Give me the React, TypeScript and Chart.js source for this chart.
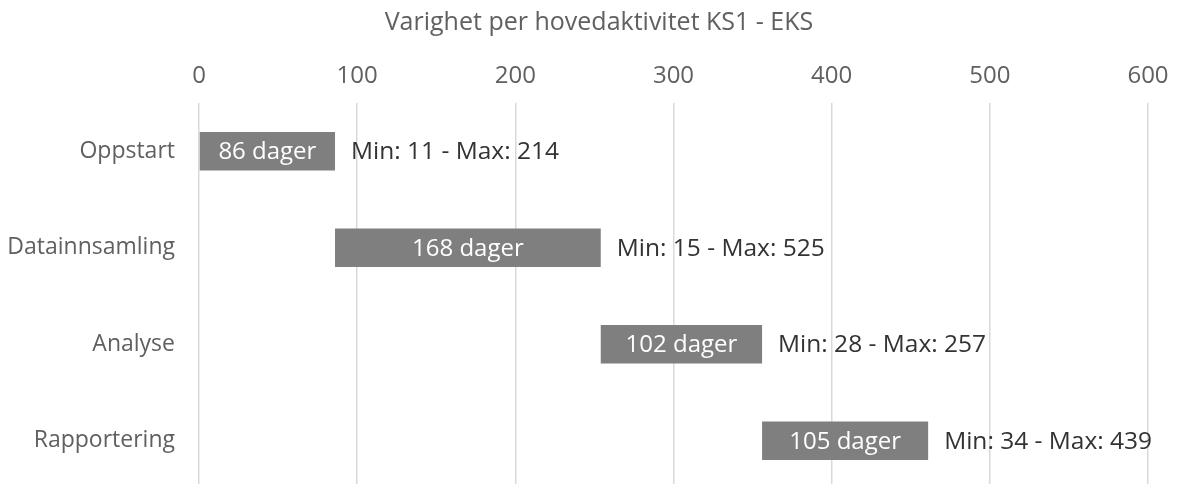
import React, { useEffect, useRef } from "react";
import { Chart, registerables } from "chart.js";

Chart.register(...registerables);

const categories = ["Oppstart", "Datainnsamling", "Analyse", "Rapportering"];
const durations = [86, 168, 102, 105];
const minDays = [11, 15, 28, 34];
const maxDays = [214, 525, 257, 439];
const xTicks = [0, 100, 200, 300, 400, 500, 600];
const chartTitle = "Varighet per hovedaktivitet KS1 - EKS";

const FONT = "'Open Sans', sans-serif";
const TITLE_SIZE = 25;
const TITLE_PAD = 8;

export default function App() {
  const ref = useRef<HTMLCanvasElement>(null);

  useEffect(() => {
    document.body.style.margin = "0";
    document.body.style.overflow = "hidden";
    document.documentElement.style.overflow = "hidden";
    const starts: number[] = [];
    let acc = 0;
    durations.forEach((d) => {
      starts.push(acc);
      acc += d;
    });
    const ranges = durations.map((d, i) => [starts[i], starts[i] + d]);

    const labelPlugin = {
      id: "barLabels",
      afterDatasetsDraw(chart: any) {
        const ctx = chart.ctx;
        const meta = chart.getDatasetMeta(0);
        ctx.save();
        meta.data.forEach((bar: any, i: number) => {
          const left = Math.min(bar.x, bar.base);
          const right = Math.max(bar.x, bar.base);
          ctx.textBaseline = "middle";
          ctx.font = `24px ${FONT}`;
          ctx.fillStyle = "#ffffff";
          ctx.textAlign = "center";
          ctx.fillText(`${durations[i]} dager`, (left + right) / 2, bar.y + 1);
          ctx.font = `500 24.5px ${FONT}`;
          ctx.fillStyle = "#333333";
          ctx.textAlign = "left";
          ctx.fillText(`Min: ${minDays[i]} - Max: ${maxDays[i]}`, right + 16, bar.y + 1);
        });
        ctx.restore();
      },
    };

    const titlePlugin = {
      id: "offsetTitle",
      afterDraw(chart: any) {
        const ctx = chart.ctx;
        ctx.save();
        ctx.font = `${TITLE_SIZE}px ${FONT}`;
        ctx.fillStyle = "#606060";
        ctx.textAlign = "center";
        ctx.textBaseline = "middle";
        const cx = (50 + chart.chartArea.right) / 2;
        ctx.fillText(chartTitle, cx, TITLE_PAD + (TITLE_SIZE * 1.2) / 2);
        ctx.restore();
      },
    };

    const chart = new Chart(ref.current!, {
      type: "bar",
      data: {
        labels: categories,
        datasets: [
          {
            data: ranges as any,
            backgroundColor: "#7f7f7f",
            borderWidth: 0,
            barPercentage: 0.4,
            categoryPercentage: 1,
            borderSkipped: false,
          },
        ],
      },
      options: {
        indexAxis: "y",
        responsive: false,
        animation: false,
        devicePixelRatio: 1,
        layout: { padding: { left: 0, right: 31, top: 0, bottom: 0 } },
        plugins: {
          legend: { display: false },
          tooltip: { enabled: false },
          title: { display: false },
        },
        scales: {
          x: {
            position: "top",
            min: 0,
            max: 600,
            afterBuildTicks: (scale: any) => {
              scale.ticks = xTicks.map((v) => ({ value: v }));
            },
            afterFit: (scale: any) => {
              scale.height = 103;
              scale.paddingLeft = 0;
              scale.paddingRight = 0;
            },
            border: { display: false },
            grid: { color: "#d9d9d9", lineWidth: 1.5, drawTicks: false },
            ticks: {
              color: "#606060",
              padding: 12,
              font: { family: FONT, size: 24, lineHeight: 1.2 },
            },
          },
          y: {
            afterFit: (scale: any) => {
              scale.width = 199;
              scale.paddingTop = 0;
              scale.paddingBottom = 0;
            },
            border: { display: false },
            grid: { display: false, drawTicks: false },
            ticks: {
              color: "#606060",
              padding: 24,
              font: { family: FONT, size: 23 },
            },
          },
        },
      },
      plugins: [labelPlugin, titlePlugin],
    });
    return () => chart.destroy();
  }, []);

  return (
    <div style={{ position: "absolute", left: 0, top: 0 }}>
      <canvas ref={ref} width={1179} height={489} />
    </div>
  );
}
